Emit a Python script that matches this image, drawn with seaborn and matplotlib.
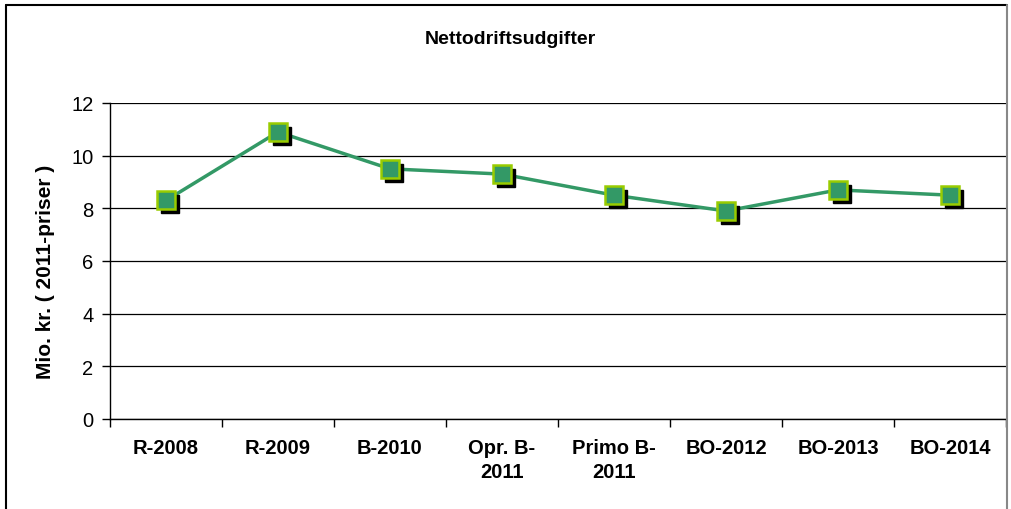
import pandas as pd
import numpy as np
import seaborn as sns
import matplotlib.pyplot as plt
from matplotlib.transforms import offset_copy
from matplotlib.lines import Line2D

# data
categories = ['R-2008', 'R-2009', 'B-2010', 'Opr. B-\n2011', 'Primo B-\n2011',
              'BO-2012', 'BO-2013', 'BO-2014']
netto_values = [8.3, 10.9, 9.5, 9.3, 8.5, 7.9, 8.7, 8.5]
y_ticks = [0, 2, 4, 6, 8, 10, 12]

df = pd.DataFrame({'kategori': categories, 'udgift': netto_values})

sns.set_theme(style='white')
plt.rcParams['font.family'] = ['Liberation Sans', 'DejaVu Sans']
plt.rcParams['text.color'] = 'black'
plt.rcParams['axes.labelcolor'] = 'black'
plt.rcParams['xtick.color'] = 'black'
plt.rcParams['ytick.color'] = 'black'

fig = plt.figure(figsize=(10.12, 5.1), dpi=100)
ax = fig.add_axes([110 / 1012, 90 / 510, 896 / 1012, 316 / 510])

line_green = '#339966'
pos = np.arange(len(categories))

# the line
sns.lineplot(data=df, x='kategori', y='udgift', sort=False, ax=ax,
             color=line_green, linewidth=2.5, zorder=2)

# shadow of the markers, then the markers
shadow = offset_copy(ax.transData, fig=fig, x=4, y=-4, units='dots')
ax.plot(pos, df['udgift'], linestyle='none', marker='s', markersize=12.5,
        color='black', transform=shadow, zorder=3)
ax.plot(pos, df['udgift'], linestyle='none', marker='s', markersize=12.5,
        markerfacecolor=line_green, markeredgecolor='#99CC00',
        markeredgewidth=1.8, zorder=4)

ax.set_xlim(-0.5, len(categories) - 0.5)
ax.set_ylim(0, 12)
ax.set_yticks(y_ticks)
ax.set_xticks(pos)
ax.set_xticklabels(categories, fontweight='bold', fontsize=14.5,
                   linespacing=1.3)
ax.set_xticks(np.arange(-0.5, len(categories)), minor=True)
ax.tick_params(axis='x', which='major', length=0, pad=14)
ax.tick_params(axis='x', which='minor', length=6, width=1, color='black',
               direction='out', bottom=True)
ax.tick_params(axis='y', length=6, width=1, color='black', direction='out',
               left=True, labelsize=14.5, pad=6)

ax.grid(axis='y', color='black', linewidth=0.9)
ax.set_axisbelow(True)
for side in ['top', 'right']:
    ax.spines[side].set_visible(False)
for side in ['left', 'bottom']:
    ax.spines[side].set_color('black')
    ax.spines[side].set_linewidth(1)

ax.set_xlabel('')
ax.set_ylabel('Mio. kr. ( 2011-priser )', fontweight='bold', fontsize=15)
ax.yaxis.set_label_coords(-0.061, 0.47)

fig.text(0.5 + 4 / 1012, 1 - 40 / 510, 'Nettodriftsudgifter', ha='center',
         va='center', fontweight='bold', fontsize=14)

# outer chart frame
fig.add_artist(Line2D([6 / 1012, 6 / 1012], [0, 1 - 6 / 510], color='black',
                      linewidth=1.5))
fig.add_artist(Line2D([6 / 1012, 1007 / 1012], [1 - 6 / 510, 1 - 6 / 510],
                      color='black', linewidth=1.5))
fig.add_artist(Line2D([1007 / 1012, 1007 / 1012], [0, 1 - 6 / 510],
                      color='#888888', linewidth=1.5))

plt.savefig('out.png', dpi=100)
